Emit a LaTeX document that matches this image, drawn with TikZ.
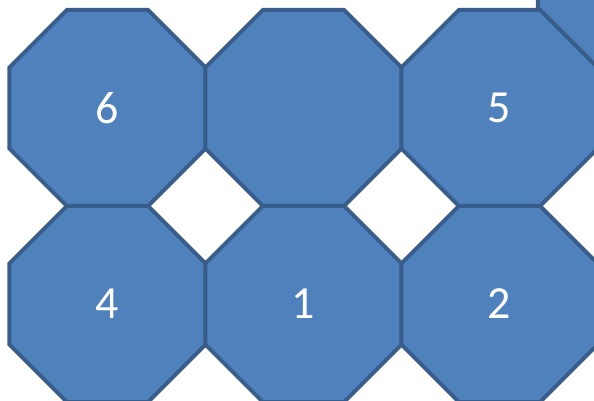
\documentclass[tikz,border=0pt]{standalone}
\usepackage{fontspec}
\setmainfont{Carlito}
\usepackage{tikz}
\usetikzlibrary{shapes.geometric}
\definecolor{tileblue}{HTML}{4F81BD}
\definecolor{tileedge}{HTML}{385D8A}
\tikzset{
  octa/.style={regular polygon,regular polygon sides=8,minimum size=212.2pt,inner sep=0pt,
    fill=tileblue,draw=tileedge,line width=4pt,text=white,font=\fontsize{46}{46}\selectfont}
}

\begin{document}
\begin{tikzpicture}[x=1pt,y=-1pt]
\useasboundingbox (0,0) rectangle (594,401);
\clip (0,0) rectangle (594,401);
% partly hidden tile in the corner
\node[octa] (corner) at (636,-31) {};
% top row
\node[octa] (o6) at (107.5,108) {6};
\node[octa] (o3) at (303.5,108) {};
\node[octa] (o5) at (499.5,108) {5};
% bottom row
\node[octa] (o4) at (107.5,304) {4};
\node[octa] (o1) at (303.5,304) {1};
\node[octa] (o2) at (499.5,304) {2};
\end{tikzpicture}
\end{document}
